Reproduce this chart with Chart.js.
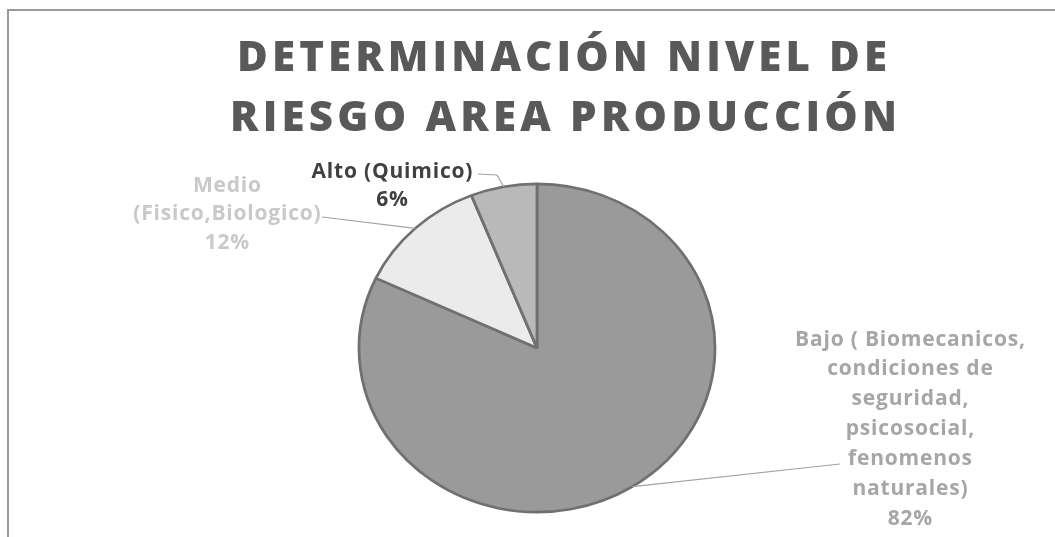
<!DOCTYPE html>
<html><head><meta charset="utf-8">
<script src="https://cdn.jsdelivr.net/npm/chart.js@4/dist/chart.umd.min.js"></script>
<style>html,body{margin:0;padding:0;background:#fff;}#wrap{position:relative;width:1055px;height:537px;}</style>
</head><body><div id="wrap"><canvas id="c" width="1055" height="537"></canvas></div>
<script>
const categories = ["Bajo ( Biomecanicos, condiciones de seguridad, psicosocial, fenomenos naturales)", "Medio (Fisico,Biologico)", "Alto (Quimico)"];
const labelLines = [
  ["Bajo ( Biomecanicos,", "condiciones de", "seguridad,", "psicosocial,", "fenomenos", "naturales)"],
  ["Medio", "(Fisico,Biologico)"],
  ["Alto (Quimico)"]
];
const values = [82, 12, 6];
const titleLines = ["DETERMINACIÓN NIVEL DE", "RIESGO AREA PRODUCCIÓN"];

const sliceColors = ["#9a9a9a", "#ebebeb", "#b9b9b9"];
const labelColors = ["#a6a6a6", "#c9c9c9", "#404040"];
const Y_SCALE = 0.922;
const labelLayout = [
  {x: 910, y: 338, lh: 29.9, lead: [[840, 464]]},
  {x: 227, y: 184, lh: 28.7, lead: [[322, 217]]},
  {x: 392, y: 170, lh: 28.3, lead: [[478, 174], [497, 175]]}
];

function pieCenter(chart) {
  const a = chart.chartArea;
  return {cx: (a.left + a.right) / 2, cy: (a.top + a.bottom) / 2};
}

const squash = {
  id: 'squash',
  beforeDatasetsDraw(chart) {
    const ctx = chart.ctx, c = pieCenter(chart);
    ctx.save();
    ctx.translate(c.cx, c.cy); ctx.scale(1, Y_SCALE); ctx.translate(-c.cx, -c.cy);
  },
  afterDatasetsDraw(chart) { chart.ctx.restore(); }
};

const decor = {
  id: 'decor',
  afterDraw(chart) {
    const ctx = chart.ctx;
    ctx.save();
    ctx.strokeStyle = '#9a9a9a'; ctx.lineWidth = 2;
    ctx.beginPath(); ctx.moveTo(8, 537); ctx.lineTo(8, 10); ctx.lineTo(1055, 10); ctx.stroke();
    ctx.restore();

    ctx.save();
    ctx.fillStyle = '#595959';
    ctx.font = '800 42px "Open Sans"';
    ctx.textBaseline = 'alphabetic';
    ctx.textAlign = 'left';
    const targets = [[237, 887, 71], [230, 897, 131]];
    titleLines.forEach((t, i) => {
      const [l, r, base] = targets[i];
      ctx.letterSpacing = '0px';
      const w0 = ctx.measureText(t).width;
      const n = [...t].length;
      const ls = (r - l - w0) / (n - 1);
      if ('letterSpacing' in ctx) {
        ctx.letterSpacing = ls + 'px';
        ctx.fillText(t, l, base);
      } else {
        ctx.save(); ctx.translate(l, base); ctx.scale((r - l) / w0, 1); ctx.fillText(t, 0, 0); ctx.restore();
      }
    });
    ctx.restore();

    const meta = chart.getDatasetMeta(0);
    const c = pieCenter(chart);
    const total = values.reduce((s, v) => s + v, 0);
    meta.data.forEach((arc, i) => {
      const p = arc.getProps(['startAngle', 'endAngle', 'outerRadius'], true);
      const mid = (p.startAngle + p.endAngle) / 2;
      const ex = c.cx + Math.cos(mid) * p.outerRadius;
      const ey = c.cy + Math.sin(mid) * p.outerRadius * Y_SCALE;
      const L = labelLayout[i];
      ctx.save();
      ctx.strokeStyle = '#a3a3a3'; ctx.lineWidth = 1.2;
      ctx.beginPath();
      ctx.moveTo(L.lead[0][0], L.lead[0][1]);
      for (let k = 1; k < L.lead.length; k++) ctx.lineTo(L.lead[k][0], L.lead[k][1]);
      ctx.lineTo(ex, ey);
      ctx.stroke();
      ctx.restore();

      ctx.save();
      ctx.fillStyle = labelColors[i];
      ctx.font = 'bold 21px "Open Sans"';
      ctx.textAlign = 'center';
      ctx.textBaseline = 'alphabetic';
      if ('letterSpacing' in ctx) ctx.letterSpacing = '0.8px';
      const lines = labelLines[i].concat([Math.round(values[i] / total * 100) + '%']);
      lines.forEach((s, k) => {
        ctx.fillText(s, L.x + 0.4, L.y + k * L.lh + 7.5);
      });
      ctx.restore();
    });
  }
};

new Chart(document.getElementById('c').getContext('2d'), {
  type: 'pie',
  data: {
    labels: categories,
    datasets: [{
      data: values,
      backgroundColor: sliceColors,
      borderColor: '#707070',
      borderWidth: 2.8
    }]
  },
  options: {
    responsive: false,
    animation: false,
    rotation: 0,
    radius: 178,
    layout: {padding: {top: 169, bottom: 10, left: 358, right: 339}},
    plugins: {legend: {display: false}, tooltip: {enabled: false}, title: {display: false}}
  },
  plugins: [squash, decor]
});
</script>
</body></html>
